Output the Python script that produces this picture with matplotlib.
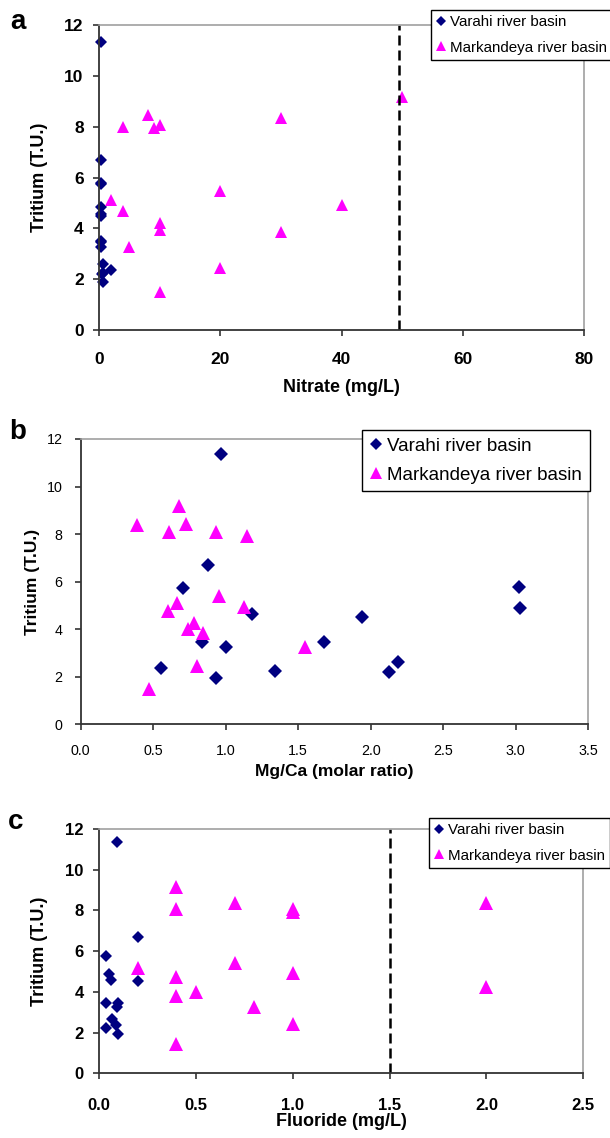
import matplotlib
matplotlib.use("Agg")
import matplotlib.pyplot as plt
from matplotlib.ticker import MultipleLocator, FormatStrFormatter

plt.rcParams["font.family"] = ["Liberation Sans", "DejaVu Sans"]

# panel a - nitrate
nitrate_v = [0.3, 0.3, 0.3, 0.4, 0.3, 0.3, 0.4, 0.3, 0.3, 0.3, 0.6, 1.9, 0.5, 0.6, 0.6]
tritium_av = [11.35, 6.7, 5.8, 5.75, 4.85, 4.55, 4.5, 3.5, 3.45, 3.25, 2.6, 2.35, 2.2, 2.25, 1.9]
nitrate_m = [50, 8, 30, 10, 4, 9, 20, 2, 40, 4, 10, 10, 30, 5, 20, 10]
tritium_am = [9.15, 8.45, 8.35, 8.05, 8.0, 7.95, 5.45, 5.1, 4.9, 4.7, 4.2, 3.95, 3.85, 3.25, 2.45, 1.5]

# panel b - Mg/Ca
mgca_v = [0.965, 0.88, 0.705, 1.185, 0.836, 1.004, 0.555, 0.934, 1.34, 1.68, 3.02, 3.026, 1.94, 2.185, 2.128]
tritium_bv = [11.35, 6.69, 5.72, 4.63, 3.45, 3.25, 2.35, 1.96, 2.25, 3.46, 5.79, 4.88, 4.52, 2.61, 2.2]
mgca_m = [0.68, 0.39, 0.73, 0.61, 0.935, 1.15, 0.953, 1.13, 0.663, 0.6, 0.783, 0.74, 0.847, 1.546, 0.803, 0.475]
tritium_bm = [9.18, 8.37, 8.42, 8.07, 8.07, 7.92, 5.41, 4.95, 5.11, 4.76, 4.26, 4.01, 3.85, 3.24, 2.45, 1.47]

# panel c - fluoride
fluoride_v = [0.095, 0.2, 0.036, 0.052, 0.062, 0.2, 0.036, 0.1, 0.095, 0.066, 0.086, 0.036, 0.1]
tritium_cv = [11.36, 6.68, 5.76, 4.88, 4.58, 4.55, 3.47, 3.47, 3.24, 2.65, 2.37, 2.21, 1.92]
fluoride_m = [0.4, 0.4, 0.7, 1.0, 1.0, 0.2, 0.7, 1.0, 0.4, 0.5, 0.4, 0.8, 1.0, 0.4, 2.0, 2.0]
tritium_cm = [9.16, 8.05, 8.38, 8.05, 7.9, 5.16, 5.43, 4.94, 4.71, 4.01, 3.81, 3.24, 2.42, 1.44, 8.35, 4.25]

names = ["Varahi river basin", "Markandeya river basin"]
NAVY = "#000080"
MAGENTA = "#FF00FF"

W, H = 610, 1138
fig = plt.figure(figsize=(W / 100, H / 100), dpi=100)


def px_axes(l, t, r, b):
    # axes placed by pixel edges of the reference
    return fig.add_axes([l / W, 1 - b / H, (r - l) / W, (b - t) / H])


def style(ax, bold, fs, xpad, ypad):
    for s in ["top", "right"]:
        ax.spines[s].set_color("#a0a0a0")
        ax.spines[s].set_linewidth(1.2)
    for s in ["left", "bottom"]:
        ax.spines[s].set_color("#333333")
        ax.spines[s].set_linewidth(1.3)
    ax.tick_params(direction="out", length=4, width=1.2, color="#333333", labelsize=fs)
    ax.tick_params(axis="x", pad=xpad)
    ax.tick_params(axis="y", pad=ypad)
    for lab in ax.get_xticklabels() + ax.get_yticklabels():
        lab.set_fontweight("bold" if bold else "normal")


def small_legend(ax, x, y, fs, ms_scale):
    ax.legend(loc="upper left", bbox_to_anchor=(x / W, 1 - y / H), bbox_transform=fig.transFigure,
              fontsize=fs, frameon=True, fancybox=False, edgecolor="black", framealpha=1,
              handlelength=0.6, handletextpad=0.3, borderpad=0.35, labelspacing=0.75,
              borderaxespad=0, markerscale=ms_scale)


# ---- a ----
ax = px_axes(99, 25, 584, 330)
ax.plot(nitrate_v, tritium_av, "D", color=NAVY, ms=5.8, mew=0, label=names[0], clip_on=False)
ax.plot(nitrate_m, tritium_am, "^", color=MAGENTA, ms=8.8, mew=0, label=names[1], clip_on=False)
ax.axvline(49.5, color="black", lw=1.8, dashes=(4, 2))
ax.set_xlim(0, 80)
ax.set_ylim(0, 12)
ax.xaxis.set_major_locator(MultipleLocator(20))
ax.yaxis.set_major_locator(MultipleLocator(2))
style(ax, True, 12.5, 12, 7)
ax.set_xlabel("Nitrate (mg/L)", fontsize=13, fontweight="bold")
ax.set_ylabel("Tritium (T.U.)", fontsize=13, fontweight="bold")
ax.xaxis.set_label_coords(0.5, -0.187)
ax.xaxis.label.set_va("center")
ax.yaxis.set_label_coords(-0.122, 0.5)
ax.yaxis.label.set_va("center")
small_legend(ax, 431, 10, 10.9, 0.8)
fig.text(18 / W, 1 - 22 / H, "a", fontsize=20, fontweight="bold", ha="center", va="center")

# ---- b ----
ax = px_axes(80.5, 439, 588.3, 724.3)
ax.plot(mgca_v, tritium_bv, "D", color=NAVY, ms=6.7, mew=0, label=names[0], clip_on=False)
ax.plot(mgca_m, tritium_bm, "^", color=MAGENTA, ms=9.6, mew=0, label=names[1], clip_on=False)
ax.set_xlim(0, 3.5)
ax.set_ylim(0, 12)
ax.xaxis.set_major_locator(MultipleLocator(0.5))
ax.xaxis.set_major_formatter(FormatStrFormatter("%.1f"))
ax.yaxis.set_major_locator(MultipleLocator(2))
style(ax, False, 10.3, 10, 9)
ax.set_xlabel("Mg/Ca (molar ratio)", fontsize=12.5, fontweight="bold")
ax.set_ylabel("Tritium (T.U.)", fontsize=12.5, fontweight="bold")
ax.xaxis.set_label_coords(0.5, (724.3 - 771.7) / 285.3)
ax.xaxis.label.set_va("center")
ax.yaxis.set_label_coords((33 - 80.5) / 507.8, 0.5)
ax.yaxis.label.set_va("center")
ax.legend(loc="upper left", bbox_to_anchor=(362 / W, 1 - 430 / H), bbox_transform=fig.transFigure,
          fontsize=13.5, frameon=True, fancybox=False, edgecolor="black", framealpha=1,
          handlelength=0.7, handletextpad=0.25, borderpad=0.4, labelspacing=0.65,
          borderaxespad=0, markerscale=0.95)
fig.text(18 / W, 1 - 432 / H, "b", fontsize=20, fontweight="bold", ha="center", va="center")

# ---- c ----
ax = px_axes(99, 829, 583.3, 1073.3)
ax.plot(fluoride_v, tritium_cv, "D", color=NAVY, ms=6.4, mew=0, label=names[0], clip_on=False)
ax.plot(fluoride_m, tritium_cm, "^", color=MAGENTA, ms=9.6, mew=0, label=names[1], clip_on=False)
ax.axvline(1.5, color="black", lw=1.8, dashes=(4, 2))
ax.set_xlim(0, 2.5)
ax.set_ylim(0, 12)
ax.xaxis.set_major_locator(MultipleLocator(0.5))
ax.xaxis.set_major_formatter(FormatStrFormatter("%.1f"))
ax.yaxis.set_major_locator(MultipleLocator(2))
style(ax, True, 12, 14, 7)
ax.set_xlabel("Fluoride (mg/L)", fontsize=13, fontweight="bold")
ax.set_ylabel("Tritium (T.U.)", fontsize=13, fontweight="bold")
ax.xaxis.set_label_coords(0.5, (1073.3 - 1121.7) / 244.3)
ax.xaxis.label.set_va("center")
ax.yaxis.set_label_coords((40 - 99) / 484.3, 0.5)
ax.yaxis.label.set_va("center")
small_legend(ax, 429, 818, 10.9, 0.8)
fig.text(16 / W, 1 - 822 / H, "c", fontsize=20, fontweight="bold", ha="center", va="center")

fig.savefig("out.png", dpi=100)
